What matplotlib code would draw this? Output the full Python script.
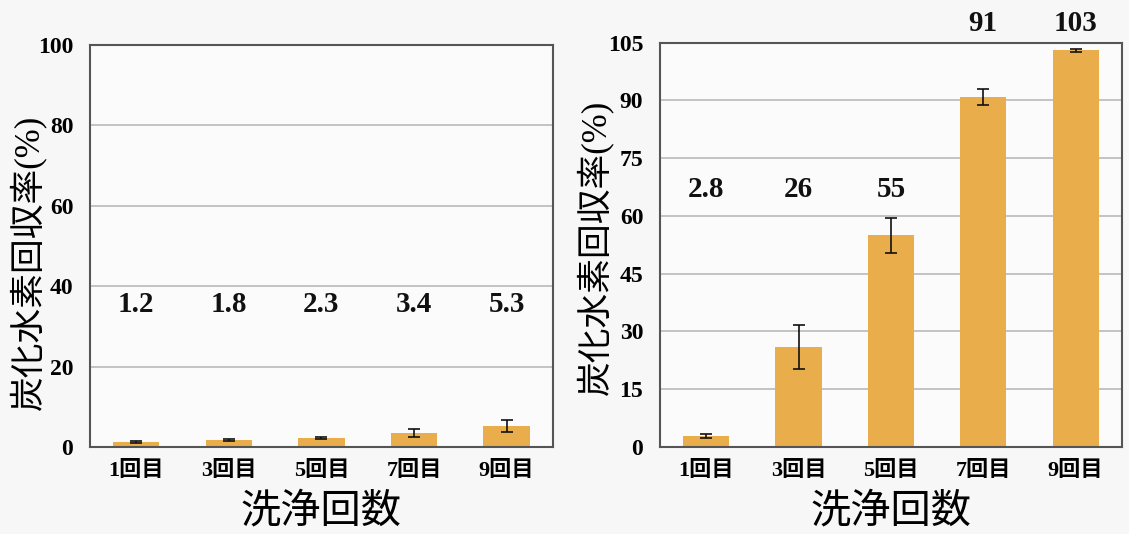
import matplotlib
matplotlib.use("Agg")
import matplotlib.pyplot as plt
import numpy as np

plt.rcParams['font.family'] = ['Liberation Serif', 'Noto Sans CJK JP', 'DejaVu Sans']

# Washing cycles and hydrocarbon recovery (%)
categories = ["1回目", "3回目", "5回目", "7回目", "9回目"]

left_values = [1.2, 1.8, 2.3, 3.4, 5.3]
left_errors = [0.2, 0.2, 0.3, 1.0, 1.5]
left_label_y = [35.5, 35.5, 35.5, 35.5, 35.5]

right_values = [2.8, 26, 55, 91, 103]
right_errors = [0.6, 5.7, 4.5, 2.1, 0.4]
right_label_y = [67, 67, 67, 110, 110]

left_ticks = [0, 20, 40, 60, 80, 100]
right_ticks = [0, 15, 30, 45, 60, 75, 90, 105]

bar_color = "#E9AD4C"
ylabel_text = "炭化水素回収率(%)"
xlabel_text = "洗浄回数"

fig = plt.figure(figsize=(11.29, 5.34), dpi=100)
fig.patch.set_facecolor("#f7f7f7")

ax_l = fig.add_axes([0.0797, 0.163, 0.410, 0.753])
ax_r = fig.add_axes([0.5846, 0.163, 0.409, 0.757])


def draw_panel(ax, values, errors, label_y, ticks, ylim, ylabel_xy):
    x = np.arange(len(categories))
    ax.set_facecolor("#fbfbfb")
    ax.set_axisbelow(True)
    ax.yaxis.grid(True, color="#b4b4b4", linewidth=1.1)
    ax.bar(x, values, width=0.5, color=bar_color, zorder=2)
    ax.errorbar(x, values, yerr=errors, fmt="none", ecolor="#111111",
                elinewidth=1.2, capsize=4, capthick=1.2, zorder=3)
    for xi, v, ly in zip(x, values, label_y):
        ax.text(xi, ly, f"{v:g}", ha="center", va="center", fontsize=21,
                fontweight="bold", color="#111111", clip_on=False)
    ax.set_xlim(-0.5, len(categories) - 0.5)
    ax.set_ylim(*ylim)
    ax.set_yticks(ticks)
    ax.set_xticks(x)
    ax.set_xticklabels(categories, fontsize=16, fontweight="bold")
    ax.tick_params(axis="y", length=0, pad=12, labelsize=17)
    ax.tick_params(axis="x", length=0, pad=10)
    for lbl in ax.get_yticklabels():
        lbl.set_fontweight("bold")
    for s in ax.spines.values():
        s.set_color("#555555")
        s.set_linewidth(1.5)
    ax.set_ylabel(ylabel_text, fontsize=25)
    ax.yaxis.label.set_va("center")
    ax.yaxis.set_label_coords(*ylabel_xy)
    ax.set_xlabel(xlabel_text, fontsize=29, labelpad=9)


draw_panel(ax_l, left_values, left_errors, left_label_y, left_ticks,
           (0, 100), (-0.134, 0.46))
draw_panel(ax_r, right_values, right_errors, right_label_y, right_ticks,
           (0, 105), (-0.141, 0.493))

fig.savefig("out.png", dpi=100, facecolor=fig.get_facecolor())
